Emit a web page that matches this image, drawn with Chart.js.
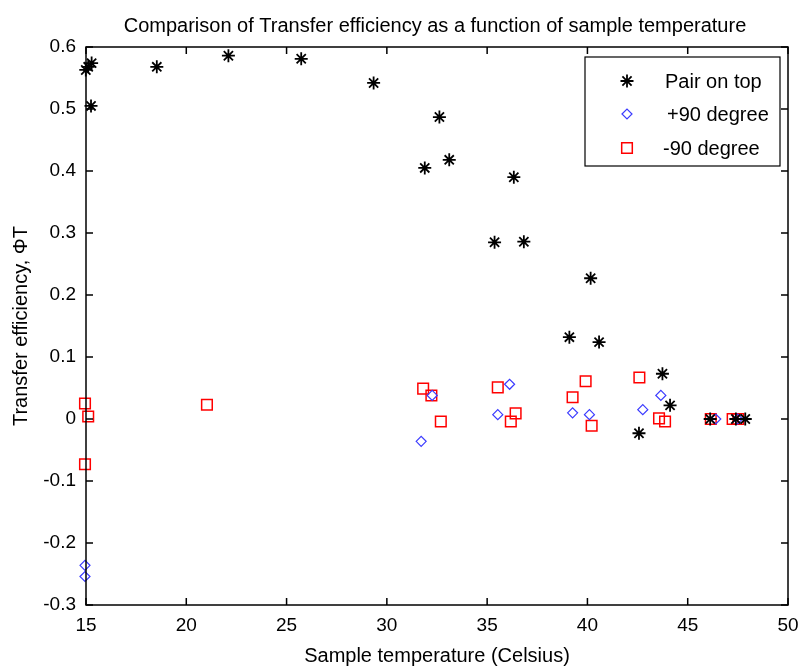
<!DOCTYPE html>
<html>
<head>
<meta charset="utf-8">
<script src="https://cdn.jsdelivr.net/npm/chart.js@4.4.0/dist/chart.umd.min.js"></script>
<style>
  body { margin: 0; background: #fff; }
  #wrap { width: 803px; height: 668px; }
</style>
</head>
<body>
<div id="wrap"><canvas id="myChart" width="803" height="668"></canvas></div>
<script>
var pairX = [14.99, 15.11, 15.28, 15.25, 18.53, 22.1, 25.73, 29.34, 32.62, 33.11, 31.89, 36.33, 35.37, 36.83, 40.16, 39.1, 40.58, 43.74, 44.12, 42.57, 46.12, 47.4, 47.87];
var pairY = [0.563, 0.568, 0.574, 0.505, 0.568, 0.586, 0.581, 0.542, 0.487, 0.418, 0.405, 0.39, 0.285, 0.286, 0.227, 0.132, 0.124, 0.073, 0.022, -0.023, 0, 0, 0];

var plusX = [14.95, 14.95, 31.71, 32.26, 36.12, 35.53, 39.26, 40.1, 42.76, 43.66, 46.4, 47.49];
var plusY = [-0.236, -0.254, -0.036, 0.038, 0.056, 0.007, 0.01, 0.007, 0.015, 0.038, 0, 0];

var minusX = [14.95, 15.11, 14.95, 21.03, 31.81, 32.22, 32.69, 35.53, 36.42, 36.18, 39.26, 39.91, 40.21, 42.59, 43.57, 43.87, 46.15, 47.24, 47.52];
var minusY = [0.025, 0.004, -0.073, 0.023, 0.049, 0.038, -0.004, 0.051, 0.009, -0.004, 0.035, 0.061, -0.011, 0.067, 0.001, -0.004, 0, 0, 0];

var seriesNames = ["Pair on top", "+90 degree", "-90 degree"];
var xTicks = [15, 20, 25, 30, 35, 40, 45, 50];
var yTicks = [-0.3, -0.2, -0.1, 0, 0.1, 0.2, 0.3, 0.4, 0.5, 0.6];

function pts(xs, ys) {
  var out = [];
  for (var i = 0; i < xs.length; i++) out.push({x: xs[i], y: ys[i]});
  return out;
}

var FONT = "'Liberation Sans', Arial, sans-serif";

// box around the plot, inward ticks on all sides, title and legend
var matlabLook = {
  id: "matlabLook",
  afterDraw: function(chart) {
    var ctx = chart.ctx;
    var a = chart.chartArea;
    var xs = chart.scales.x, ys = chart.scales.y;
    ctx.save();
    ctx.strokeStyle = "#000";
    ctx.lineWidth = 1.5;
    ctx.strokeRect(a.left, a.top, a.right - a.left, a.bottom - a.top);
    ctx.beginPath();
    xTicks.forEach(function(v) {
      var px = xs.getPixelForValue(v);
      ctx.moveTo(px, a.bottom); ctx.lineTo(px, a.bottom - 7);
      ctx.moveTo(px, a.top); ctx.lineTo(px, a.top + 7);
    });
    yTicks.forEach(function(v) {
      var py = ys.getPixelForValue(v);
      ctx.moveTo(a.left, py); ctx.lineTo(a.left + 7, py);
      ctx.moveTo(a.right, py); ctx.lineTo(a.right - 7, py);
    });
    ctx.stroke();

    // title
    ctx.fillStyle = "#000";
    ctx.font = "20px " + FONT;
    ctx.textAlign = "center";
    ctx.textBaseline = "alphabetic";
    ctx.fillText("Comparison of Transfer efficiency as a function of sample temperature", 435, 32);

    // legend
    var bx = 585, by = 57, bw = 195, bh = 109;
    ctx.fillStyle = "#fff";
    ctx.fillRect(bx, by, bw, bh);
    ctx.lineWidth = 1.2;
    ctx.strokeStyle = "#000";
    ctx.strokeRect(bx, by, bw, bh);
    var ds = chart.data.datasets;
    var rowY = [81, 114, 148];
    var textX = [665, 667, 663];
    for (var i = 0; i < ds.length; i++) {
      ctx.lineWidth = ds[i].borderWidth;
      ctx.strokeStyle = ds[i].borderColor;
      ctx.fillStyle = ds[i].backgroundColor;
      Chart.helpers.drawPoint(ctx, {pointStyle: ds[i].pointStyle, radius: ds[i].pointRadius, borderWidth: ds[i].borderWidth, rotation: 0}, 627, rowY[i]);
      ctx.fillStyle = "#000";
      ctx.font = "20px " + FONT;
      ctx.textAlign = "left";
      ctx.textBaseline = "middle";
      ctx.fillText(seriesNames[i], textX[i], rowY[i] + 1);
    }
    ctx.restore();
  }
};

new Chart("myChart", {
  type: "scatter",
  data: {
    datasets: [{
      label: seriesNames[0],
      data: pts(pairX, pairY),
      pointStyle: "star",
      pointRadius: 6.5,
      borderColor: "#000",
      backgroundColor: "#000",
      borderWidth: 1.8,
      clip: false
    }, {
      label: seriesNames[1],
      data: pts(plusX, plusY),
      pointStyle: "rectRot",
      pointRadius: 5,
      borderColor: "#3b3bff",
      backgroundColor: "rgba(0,0,0,0)",
      borderWidth: 1.2,
      clip: false
    }, {
      label: seriesNames[2],
      data: pts(minusX, minusY),
      pointStyle: "rect",
      pointRadius: 7.5,
      borderColor: "#ff0000",
      backgroundColor: "rgba(0,0,0,0)",
      borderWidth: 1.5,
      clip: false
    }]
  },
  options: {
    responsive: false,
    animation: false,
    events: [],
    layout: { padding: { top: 47, right: 15, left: 0, bottom: 0 } },
    plugins: {
      legend: { display: false },
      title: { display: false },
      tooltip: { enabled: false }
    },
    scales: {
      x: {
        type: "linear",
        min: 15,
        max: 50,
        afterBuildTicks: function(s) { s.ticks = xTicks.map(function(v) { return {value: v}; }); },
        afterFit: function(s) { s.height = 63; s.paddingLeft = 0; s.paddingRight = 0; },
        grid: { display: false, drawTicks: false },
        border: { display: false },
        ticks: {
          color: "#000",
          padding: 9,
          maxRotation: 0,
          font: { family: FONT, size: 19 }
        },
        title: {
          display: true,
          text: "Sample temperature (Celsius)",
          color: "#000",
          padding: { top: 0, bottom: 0 },
          font: { family: FONT, size: 20 }
        }
      },
      y: {
        type: "linear",
        min: -0.3,
        max: 0.6,
        afterBuildTicks: function(s) { s.ticks = yTicks.map(function(v) { return {value: v}; }); },
        afterFit: function(s) { s.width = 86; s.paddingTop = 0; s.paddingBottom = 0; },
        grid: { display: false, drawTicks: false },
        border: { display: false },
        ticks: {
          color: "#000",
          padding: 10,
          font: { family: FONT, size: 19 },
          callback: function(v) { return String(Math.round(v * 10) / 10); }
        },
        title: {
          display: true,
          text: "Transfer efficiency, ΦT",
          color: "#000",
          padding: { top: 9, bottom: 0 },
          font: { family: FONT, size: 20 }
        }
      }
    }
  },
  plugins: [matlabLook]
});
</script>
</body>
</html>
